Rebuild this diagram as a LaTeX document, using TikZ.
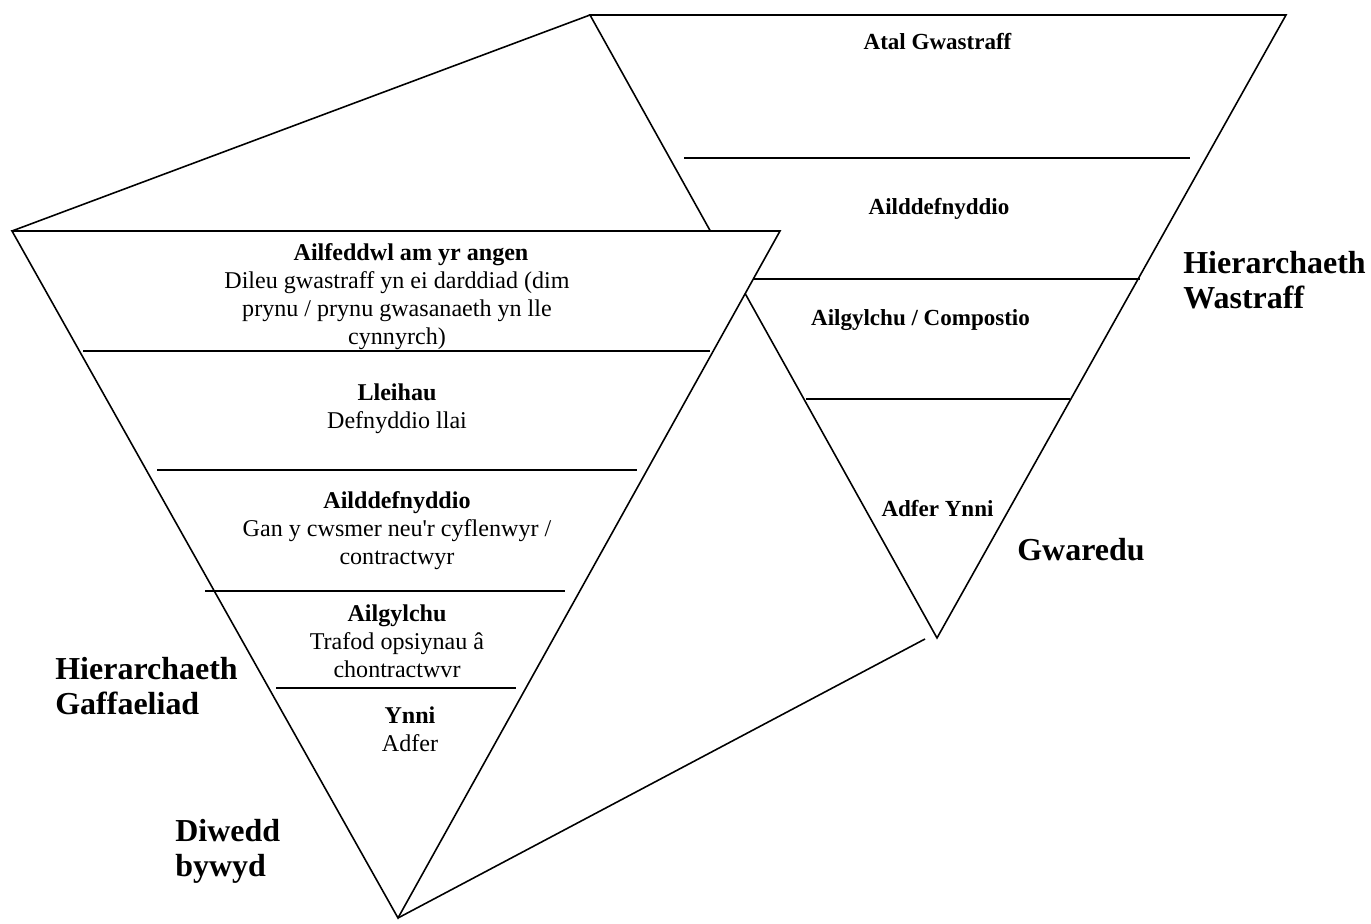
\documentclass[tikz,border=0pt]{standalone}
\usepackage{fontspec}
\setmainfont{Liberation Serif}[Ligatures=TeXOff]
\tikzset{
    edge line/.style={black, line width=0.9pt},
    tier text/.style={align=center, inner sep=0pt, font=\fontsize{13.7}{15.9}\selectfont},
    waste text/.style={inner sep=0pt, font=\fontsize{13.1}{15}\selectfont\bfseries},
    side label/.style={anchor=west, align=left, inner sep=0pt, font=\fontsize{18.2}{20}\selectfont\bfseries}
}
\begin{document}
\begin{tikzpicture}
    \useasboundingbox (0,0) rectangle (27.42,18.48);

    % back triangle (waste)
    \coordinate (wl) at (11.80,18.18);
    \coordinate (wr) at (25.72,18.18);
    \coordinate (wa) at (18.74,5.72);
    \draw[edge line] (wl) -- (wr) -- (wa) -- cycle;
    \draw[edge line] (13.68,15.32) -- (23.80,15.32);
    \draw[edge line] (14.80,12.90) -- (22.80,12.90);
    \draw[edge line] (16.12,10.50) -- (21.40,10.50);

    % front triangle (procurement)
    \coordinate (gl) at (0.24,13.86);
    \coordinate (gr) at (15.60,13.86);
    \coordinate (ga) at (7.96,0.12);
    \coordinate (ge) at (18.50,5.70);
    \draw[edge line] (gl) -- (wl);
    \draw[edge line] (ga) -- (ge);
    \draw[edge line, fill=white] (gl) -- (gr) -- (ga) -- cycle;
    \draw[edge line] (1.66,11.46) -- (14.20,11.46);
    \draw[edge line] (3.14,9.08) -- (12.74,9.08);
    \draw[edge line] (4.10,6.66) -- (11.30,6.66);
    \draw[edge line] (5.52,4.72) -- (10.32,4.72);

    % waste tiers
    \node[waste text] (atal) at (18.75,17.64) {Atal Gwastraff};
    \node[waste text] (ailddef) at (18.78,14.30) {Ailddefnyddio};
    \node[waste text] (ailgyl) at (18.41,12.08) {Ailgylchu / Compostio};
    \node[waste text] (adfer) at (18.75,8.30) {Adfer Ynni};

    % procurement tiers
    \node[tier text] (ailfed) at (7.94,12.54) {\hspace*{0.56cm}\textbf{Ailfeddwl am yr angen}\\Dileu gwastraff yn ei darddiad (dim\\prynu / prynu gwasanaeth yn lle\\cynnyrch)};
    \node[tier text] (lleihau) at (7.94,10.31) {\textbf{Lleihau}\\Defnyddio llai};
    \node[tier text] (ailddefg) at (7.94,7.86) {\textbf{Ailddefnyddio}\\Gan y cwsmer neu'r cyflenwyr /\\contractwyr};
    \node[tier text] (ailgylg) at (7.94,5.65) {\textbf{Ailgylchu}\\Trafod opsiynau â\\chontractwvr};
    \node[tier text] (ynni) at (8.20,3.89) {\textbf{Ynni}\\Adfer};

    % side labels
    \node[side label] (hwas) at (23.66,12.88) {Hierarchaeth\\Wastraff};
    \node[side label] (gwaredu) at (20.34,7.48) {Gwaredu};
    \node[side label] (hgaf) at (1.10,4.76) {Hierarchaeth\\Gaffaeliad};
    \node[side label] (diwedd) at (3.50,1.46) {Diwedd\\bywyd};
\end{tikzpicture}
\end{document}
